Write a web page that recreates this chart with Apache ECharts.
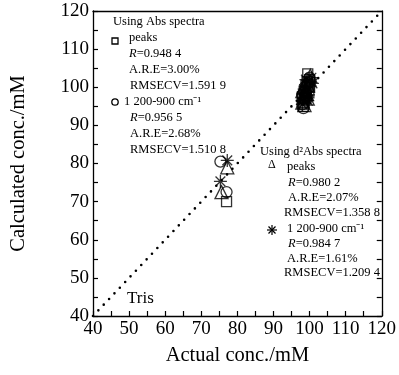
<!DOCTYPE html>
<html><head><meta charset="utf-8">
<script src="https://cdn.jsdelivr.net/npm/echarts@6/dist/echarts.min.js"></script>
<style>html,body{margin:0;padding:0;background:#fff}#c{width:399px;height:375px}</style>
</head><body><div id="c"></div>
<script>
// ---- data ----
const axisMin = 40, axisMax = 120, axisStep = 10;
const diagonal = [[40, 40], [120, 120]];
const absPeaks = [[77, 70], [99.5, 103.5], [100, 102], [99, 100.5], [98.5, 99], [98, 97.5], [99, 98], [100, 100], [98.5, 96], [99.3, 101.5], [98.2, 95], [99.8, 98.5], [98.7, 97.2]];
const abs1200 = [[75.3, 80.5], [77, 72.5], [98, 95.5], [98.5, 97], [99, 99], [99.5, 101], [100, 102.5], [98, 98], [99, 96.5], [98.3, 94.5], [99.7, 99.8], [98.8, 100.2], [99.2, 97.5]];
const d2Peaks = [[77.2, 79], [75.6, 72.5], [98, 96], [98.5, 97.5], [99, 99.5], [99.5, 100.5], [100, 102], [98, 99], [99.5, 97], [100.2, 103], [98.6, 95.3], [99.2, 98.2], [98.3, 100]];
const d2_1200 = [[77.2, 80.8], [75.3, 75.3], [98.2, 97], [98.8, 98.5], [99.3, 100], [100, 101.5], [100.5, 102.5], [98, 95.5], [99.5, 96.5], [100.8, 101], [98.5, 99.5], [99.7, 98], [99, 102]];
const xName = 'Actual conc./mM', yName = 'Calculated conc./mM';
const sample = 'Tris';
const leftBlock = ['Using Abs spectra', 'peaks', '{i|R}=0.948 4', 'A.R.E=3.00%', 'RMSECV=1.591 9', '1 200-900 cm⁻¹', '{i|R}=0.956 5', 'A.R.E=2.68%', 'RMSECV=1.510 8'];
const rightBlock = ['Using d²Abs spectra', 'peaks', '{i|R}=0.980 2', 'A.R.E=2.07%', 'RMSECV=1.358 8', '1 200-900 cm⁻¹', '{i|R}=0.984 7', 'A.R.E=1.61%', 'RMSECV=1.209 4'];

const FONT = 'Liberation Serif';
const FS = 12.5;
const star = 'path://M0,-10L0,10M-10,0L10,0M-7.5,-7.5L7.5,7.5M-7.5,7.5L7.5,-7.5';
const chart = echarts.init(document.getElementById('c'), null, {renderer: 'canvas'});

function txt(x, y, s, size) {
  const fs = size || FS;
  return {type: 'text', x: x, y: y, style: {text: s, fontFamily: FONT, fontSize: fs, fill: '#000',
    verticalAlign: 'top',
    rich: {i: {fontStyle: 'italic', fontFamily: FONT, fontSize: fs}}}};
}
const lx = [113, 129, 129, 129, 130, 124, 130, 130, 130];
const ly = [15, 31, 47, 63, 79, 95, 111, 127, 143];
const rx = [260, 287, 288, 288, 284, 287, 288, 287, 284];
const ry = [145, 160, 176, 191, 206, 222, 237, 252, 266];
const graphics = [];
leftBlock.forEach((s, k) => graphics.push(txt(lx[k], ly[k], s)));
rightBlock.forEach((s, k) => graphics.push(txt(rx[k], ry[k], s)));
graphics.push({type: 'rect', shape: {x: 112, y: 38, width: 6, height: 6}, style: {fill: 'none', stroke: '#000', lineWidth: 1.3}});
graphics.push({type: 'circle', shape: {cx: 115, cy: 102, r: 3.2}, style: {fill: 'none', stroke: '#000', lineWidth: 1.3}});
graphics.push(txt(268, 159, 'Δ', 12));
[[272, 225, 272, 235], [267, 230, 277, 230], [268.5, 226.5, 275.5, 233.5], [268.5, 233.5, 275.5, 226.5]].forEach(s =>
  graphics.push({type: 'line', shape: {x1: s[0], y1: s[1], x2: s[2], y2: s[3]}, style: {stroke: '#000', lineWidth: 1.2}}));
graphics.push(txt(127, 290, sample, 17));

const markerStyle = {color: 'none', borderColor: '#000', borderWidth: 1.3};
const axisCommon = {
  type: 'value', min: axisMin, max: axisMax, interval: axisStep,
  axisLine: {show: true, lineStyle: {color: '#000', width: 1.3}},
  axisTick: {show: true, inside: true, length: 5, lineStyle: {color: '#000', width: 1.2}},
  minorTick: {show: true, splitNumber: 2, length: 5, lineStyle: {color: '#000', width: 1.2}},
  splitLine: {show: false},
  axisLabel: {color: '#000', fontFamily: FONT, fontSize: 19, margin: 4}
};
chart.setOption({
  backgroundColor: '#fff',
  animation: false,
  grid: {left: 93, right: 16, top: 11, bottom: 59, containLabel: false},
  xAxis: [
    Object.assign({}, axisCommon, {position: 'bottom', name: xName, nameLocation: 'middle', nameGap: 29,
      nameTextStyle: {color: '#000', fontFamily: FONT, fontSize: 20.5}}),
    Object.assign({}, axisCommon, {position: 'top', axisTick: {show: false}, minorTick: {show: false}, axisLabel: {show: false}})
  ],
  yAxis: [
    Object.assign({}, axisCommon, {position: 'left', name: yName, nameLocation: 'middle', nameGap: 64,
      nameTextStyle: {color: '#000', fontFamily: FONT, fontSize: 20.5}}),
    Object.assign({}, axisCommon, {position: 'right', axisLabel: {show: false}})
  ],
  series: [
    {type: 'line', data: diagonal, symbol: 'none', lineStyle: {color: '#000', width: 2.6, type: [0, 7.8], cap: 'round'}, z: 1},
    {type: 'scatter', data: absPeaks, symbol: 'rect', symbolSize: 10, itemStyle: markerStyle},
    {type: 'scatter', data: abs1200, symbol: 'circle', symbolSize: 11, itemStyle: markerStyle},
    {type: 'scatter', data: d2Peaks, symbol: 'triangle', symbolSize: 13, itemStyle: markerStyle},
    {type: 'scatter', data: d2_1200, symbol: star, symbolSize: 13, itemStyle: {color: 'none', borderColor: '#000', borderWidth: 1.3}}
  ],
  graphic: graphics
});
</script></body></html>
